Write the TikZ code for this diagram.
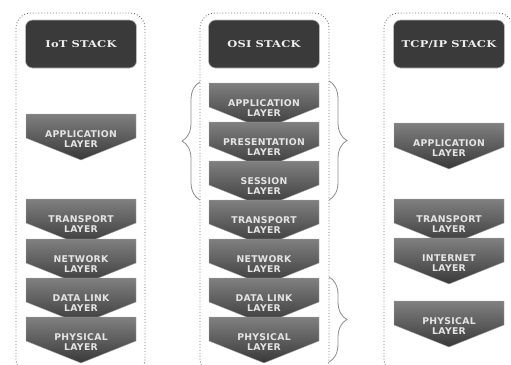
\documentclass[tikz,border=0pt]{standalone}
\usepackage{fontspec}
\usetikzlibrary{decorations.pathreplacing}
\newfontfamily\layerfont{DejaVu Sans}[LetterSpace=3]
\newfontfamily\headfont{DejaVu Serif}[FakeStretch=1.22,LetterSpace=2]
\definecolor{headfill}{HTML}{3A3A3A}
\definecolor{layertop}{HTML}{808080}
\definecolor{layerbot}{HTML}{393939}
\definecolor{layerink}{HTML}{E4E4E4}
\definecolor{frameink}{HTML}{6E6E6E}
\definecolor{braceink}{HTML}{8C8C8C}
% one chevron: name, centre x, top y, text
\newcommand{\layer}[4]{%
	\shade[layershade] (#2-55,#3) -- ++(110,0) -- ++(0,24) -- ++(-55,22)
	-- ++(-55,-22) -- cycle;
	\node[layertext] (#1) at (#2,#3+25) {#4};}
\begin{document}
\begin{tikzpicture}[x=1pt,y=-1pt,
	stackframe/.style={draw=frameink,line width=0.9pt,dotted,rounded corners=15pt},
	stackhead/.style={fill=headfill,draw=gray!55,line width=0.6pt,rounded corners=7pt,
		minimum width=111pt,minimum height=48pt,text=white!93!black,
		font=\headfont\bfseries\fontsize{9.4}{11}\selectfont},
	layershade/.style={top color=layertop,bottom color=layerbot,draw=gray!60,line width=0.3pt},
	layertext/.style={text=layerink,align=center,inner sep=0pt,
		font=\layerfont\bfseries\fontsize{9.3}{10.2}\selectfont},
	curly/.style={draw=braceink,line width=0.8pt,decorate,
		decoration={brace,amplitude=18pt}}]
	\useasboundingbox (0,0) rectangle (511,364);
	\clip (0,0) rectangle (511,364);
	%Frames
	\draw[stackframe] (16,13) rectangle (145,374);
	\draw[stackframe] (200,13) rectangle (329,374);
	\draw[stackframe] (384,13) rectangle (513,374);
	%Headers
	\node[stackhead] (iothead) at (81,44) {IoT STACK};
	\node[stackhead] (osihead) at (264,44) {OSI STACK};
	\node[stackhead] (tcphead) at (449,44) {TCP/IP STACK};
	%IoT
	\layer{iotapp}{81}{114}{APPLICATION\\LAYER}
	\layer{iottrans}{81}{199}{TRANSPORT\\LAYER}
	\layer{iotnet}{81}{239}{NETWORK\\LAYER}
	\layer{iotlink}{81}{278}{DATA LINK\\LAYER}
	\layer{iotphys}{81}{317}{PHYSICAL\\LAYER}
	%OSI
	\layer{osiapp}{264}{83}{APPLICATION\\LAYER}
	\layer{osipres}{264}{122}{PRESENTATION\\LAYER}
	\layer{osisess}{264}{161}{SESSION\\LAYER}
	\layer{ositrans}{264}{200}{TRANSPORT\\LAYER}
	\layer{osinet}{264}{239}{NETWORK\\LAYER}
	\layer{osilink}{264}{278}{DATA LINK\\LAYER}
	\layer{osiphys}{264}{317}{PHYSICAL\\LAYER}
	%TCP/IP
	\layer{tcpapp}{449}{123}{APPLICATION\\LAYER}
	\layer{tcptrans}{449}{199}{TRANSPORT\\LAYER}
	\layer{tcpinet}{449}{238}{INTERNET\\LAYER}
	\layer{tcpphys}{449}{301}{PHYSICAL\\LAYER}
	%Braces
	\draw[curly] (200,200) -- (200,82);
	\draw[curly] (329,81) -- (329,200);
	\draw[curly] (329,277) -- (329,362);
\end{tikzpicture}
\end{document}
